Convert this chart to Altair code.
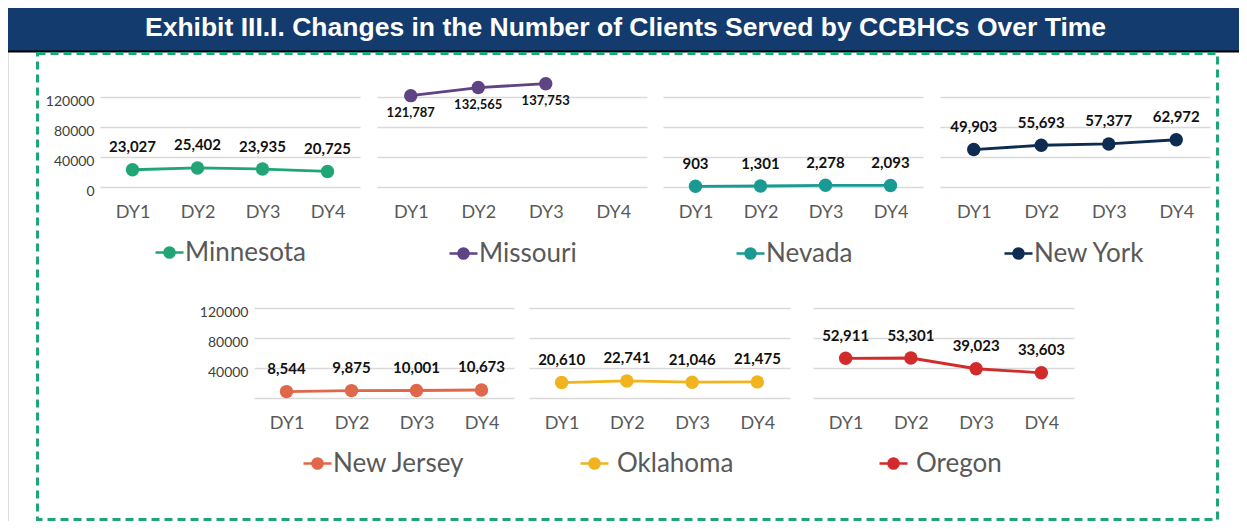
import altair as alt
import pandas as pd

# ---------------- data ----------------
years = ["DY1", "DY2", "DY3", "DY4"]
states = ["Minnesota", "Missouri", "Nevada", "New York", "New Jersey", "Oklahoma", "Oregon"]
minnesota = [23027, 25402, 23935, 20725]
missouri = [121787, 132565, 137753, None]
nevada = [903, 1301, 2278, 2093]
new_york = [49903, 55693, 57377, 62972]
new_jersey = [8544, 9875, 10001, 10673]
oklahoma = [20610, 22741, 21046, 21475]
oregon = [52911, 53301, 39023, 33603]
series = [minnesota, missouri, nevada, new_york, new_jersey, oklahoma, oregon]
colors = ["#1FA674", "#5E4385", "#1B9A93", "#0E2B52", "#E0684A", "#F1B41E", "#D22B2B"]
y_ticks = [0, 40000, 80000, 120000]
title_text = "Exhibit III.I. Changes in the Number of Clients Served by CCBHCs Over Time"

# ---------------- layout (chart pixel coordinates) ----------------
W, H = 1231, 513
x_ranges = [(92, 352), (369, 639), (655, 915), (932, 1202),
            (246, 506), (521, 782), (805, 1066)]
row_of = [0, 0, 0, 0, 1, 1, 1]
y_zero = [179, 390]
y_top = [89, 300]
show_y_labels = [True, False, False, False, True, False, False]
y_label_values = [[0, 40000, 80000, 120000], [40000, 80000, 120000]]
label_dy = [-22.5, 17, -22.5, -22.5, -22.5, -22.5, -22.5]
label_size = [15, 13, 15, 15, 15, 15, 15]
legend_xy = [(146, 229), (440, 230), (727, 230), (995, 230),
             (294, 440), (571, 440), (870, 440)]
legend_gap = [0, 0, 0, 0, 0, 7, 7]

FONT = "Lato"
GRID = "#D9D9D9"

sym_path = ("M-1,0L1,0 "
            "M-0.36,0A0.36,0.36,0,1,1,0.36,0A0.36,0.36,0,1,1,-0.36,0Z "
            "M-0.23,0A0.23,0.23,0,1,1,0.23,0A0.23,0.23,0,1,1,-0.23,0Z "
            "M-0.11,0A0.11,0.11,0,1,1,0.11,0A0.11,0.11,0,1,1,-0.11,0Z "
            "M-0.03,0A0.03,0.03,0,1,1,0.03,0A0.03,0.03,0,1,1,-0.03,0Z")


def panel(i):
    rows = [{"year": y, "clients": v, "state": states[i]}
            for y, v in zip(years, series[i]) if v is not None]
    df = pd.DataFrame(rows)
    r = row_of[i]
    x0, x1 = x_ranges[i]
    xs = alt.Scale(domain=years, range=[x0, x1], padding=0.5)
    ys = alt.Scale(domain=[0, 120000], range=[y_zero[r], y_top[r]], nice=False, zero=True)
    x_axis = alt.Axis(orient="bottom", offset=y_zero[r] - H, domain=False, ticks=False,
                      tickSize=0, grid=False, title=None, labelAngle=0,
                      labelFont=FONT, labelFontSize=18, labelColor="#595959",
                      labelBaseline="middle", labelPadding=25)
    y_axis = alt.Axis(orient="left", offset=-(x0 - 2), domain=False, ticks=False,
                      tickSize=0, grid=True, gridColor=GRID, gridWidth=1.5,
                      values=y_ticks, title=None, labels=show_y_labels[i],
                      labelFont=FONT, labelFontSize=14, labelColor="#404040",
                      labelBaseline="middle", labelOffset=4, labelPadding=4,
                      labelExpr="indexof(" + str(y_label_values[r]) + ", datum.value) >= 0 ? datum.value : ''",
                      format="d")
    lx, ly = legend_xy[i]
    legend = alt.Legend(orient="none", legendX=lx, legendY=ly, title=None,
                        symbolType=sym_path, symbolSize=784, symbolStrokeWidth=2.5,
                        symbolOpacity=1, labelFont=FONT, labelFontSize=26,
                        labelColor="#595959", labelOffset=legend_gap[i], padding=0)
    base = alt.Chart(df).encode(
        x=alt.X("year:N", scale=xs, axis=x_axis),
        y=alt.Y("clients:Q", scale=ys, axis=y_axis),
    )
    line = base.mark_line(strokeWidth=2.8).encode(
        color=alt.Color("state:N", scale=alt.Scale(domain=[states[i]], range=[colors[i]]),
                        legend=legend))
    pts = base.mark_point(filled=True, size=180, opacity=1).encode(
        color=alt.Color("state:N", scale=alt.Scale(domain=[states[i]], range=[colors[i]]),
                        legend=None))
    txt = base.mark_text(font=FONT, fontSize=label_size[i], fontWeight="bold",
                         color="#111111", baseline="middle", dy=label_dy[i]).encode(
        text=alt.Text("clients:Q", format=",d"))
    return alt.layer(line, pts, txt)


frame_df = pd.DataFrame({"k": [0]})
banner = alt.Chart(frame_df).mark_rect(color="#133B6D").encode(
    x=alt.value(0), x2=alt.value(W), y=alt.value(0), y2=alt.value(43))
banner_line = alt.Chart(frame_df).mark_rule(color="#000000", strokeWidth=2).encode(
    x=alt.value(0), x2=alt.value(W), y=alt.value(43.5))
dashed_box = alt.Chart(frame_df).mark_rect(fill=None, fillOpacity=0, stroke="#1EA674",
                                           strokeWidth=3, strokeDash=[8, 5]).encode(
    x=alt.value(29.5), x2=alt.value(1209.5), y=alt.value(45.5), y2=alt.value(511.5))

panels = [panel(i) for i in range(len(states))]

chart = alt.layer(banner, banner_line, dashed_box, *panels).resolve_scale(
    x="independent", y="independent", color="independent"
).resolve_axis(x="independent", y="independent").resolve_legend(
    color="independent"
).properties(
    width=W, height=H,
    autosize=alt.AutoSizeParams(type="none"),
    padding=0,
    title=alt.Title(title_text, font="Liberation Sans", fontSize=26.5, fontWeight="bold",
                    color="#FFFFFF", anchor="middle", frame="group", baseline="middle",
                    offset=0, dy=46, dx=2),
).configure_view(stroke="transparent", strokeWidth=0).configure(background="#FFFFFF")

chart.save("out.html", embed_options={"renderer": "svg", "actions": False})
